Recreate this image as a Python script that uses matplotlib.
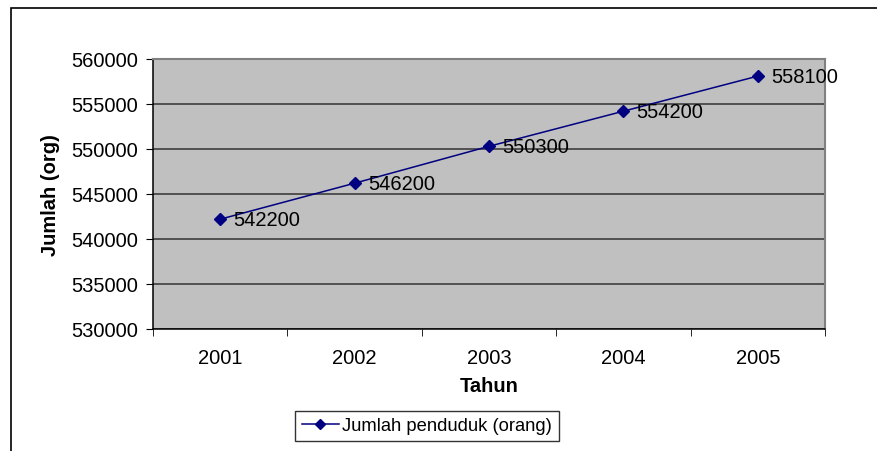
import matplotlib.pyplot as plt
from matplotlib.patches import Rectangle

tahun = ["2001", "2002", "2003", "2004", "2005"]
jumlah = [542200, 546200, 550300, 554200, 558100]
y_ticks = [530000, 535000, 540000, 545000, 550000, 555000, 560000]

plt.rcParams['font.family'] = ['Liberation Sans', 'DejaVu Sans']
fs = 14.5

W, H = 878, 452
fig = plt.figure(figsize=(W / 100, H / 100), dpi=100)
# plot area in pixels
left, top, right, bottom = 153, 60, 825, 330
ax = fig.add_axes([left / W, 1 - bottom / H, (right - left) / W, (bottom - top) / H])

# outer chart frame (cropped on right/bottom)
fig.patches.append(Rectangle((11 / W, -0.05), 1.2, 1 - 9 / H + 0.05, transform=fig.transFigure,
                             fill=False, edgecolor='black', linewidth=1.2))

x = range(len(tahun))
ax.set_facecolor('#C0C0C0')
ax.plot(x, jumlah, color='#000080', marker='D', markersize=6, linewidth=1.1, zorder=3,
        label='Jumlah penduduk (orang)')
for i, v in enumerate(jumlah):
    ax.annotate(str(v), (i, v), xytext=(9.5, 0), textcoords='offset points',
                va='center', ha='left', fontsize=fs, annotation_clip=False)

ax.set_xlim(-0.5, len(tahun) - 0.5)
ax.set_ylim(y_ticks[0], y_ticks[-1])
ax.set_yticks(y_ticks)
ax.set_yticklabels([str(t) for t in y_ticks], fontsize=fs)
ax.set_xticks(list(x))
ax.set_xticklabels(tahun, fontsize=fs)
ax.tick_params(axis='x', length=0, pad=14)
ax.set_xticks([i - 0.5 for i in range(len(tahun) + 1)], minor=True)
ax.tick_params(axis='x', which='minor', length=5, direction='out', color='black')
ax.tick_params(axis='y', length=5, direction='out', pad=6)
ax.grid(axis='y', color='#333333', linewidth=1.1)
for s in ['top', 'right']:
    ax.spines[s].set_color('#808080')
    ax.spines[s].set_linewidth(1.5)
for s in ['left', 'bottom']:
    ax.spines[s].set_color('black')
    ax.spines[s].set_linewidth(1.1)

ax.set_xlabel('Tahun', fontsize=fs, fontweight='bold', labelpad=6)
ax.set_ylabel('Jumlah (org)', fontsize=fs, fontweight='bold', labelpad=8)

leg = fig.legend(loc='center', bbox_to_anchor=(427 / W, 1 - 427 / H), fontsize=13.2,
                 frameon=True, fancybox=False, edgecolor='black', handlelength=2.0,
                 borderpad=0.35, handletextpad=0.2, borderaxespad=0, markerscale=0.8)
leg.get_frame().set_linewidth(1.0)

fig.savefig('out.png', dpi=100)
